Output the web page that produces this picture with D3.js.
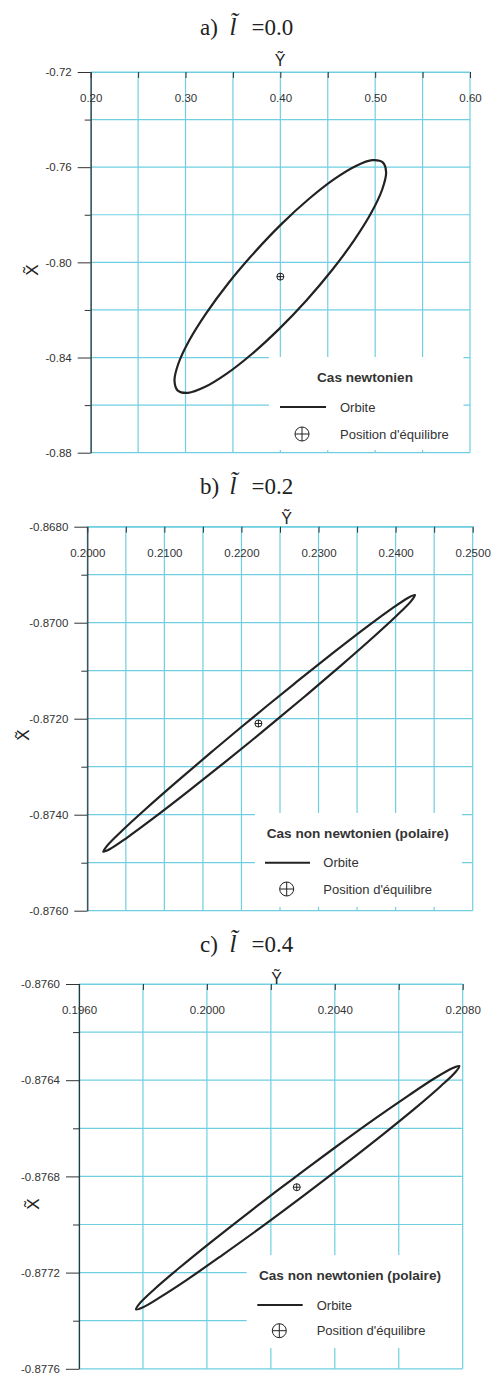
<!DOCTYPE html>
<html>
<head>
<meta charset="utf-8">
<script src="https://cdn.jsdelivr.net/npm/d3@7/dist/d3.min.js"></script>
<style>
  body { margin: 0; background: #fff; }
  svg text { font-family: "Liberation Sans", Arial, Helvetica, sans-serif; }
</style>
</head>
<body>
<svg id="chart" width="497" height="1376"></svg>
<script>
// Orbits in the (Ỹ, X̃) plane for three values of the length l̃

const panelLetters = ["a)", "b)", "c)"];
const lValues = ["0.0", "0.2", "0.4"];
const legendTitles = ["Cas newtonien", "Cas non newtonien (polaire)", "Cas non newtonien (polaire)"];
const legendLabels = ["Orbite", "Position d'équilibre"];

// ---- panel a : l = 0.0 ----
const yDomainA = [0.20, 0.60];
const xDomainA = [-0.72, -0.88];
const yTicksA = [0.20, 0.25, 0.30, 0.35, 0.40, 0.45, 0.50, 0.55, 0.60];
const yLabelsA = [0.20, 0.30, 0.40, 0.50, 0.60];
const xMajorA = [-0.72, -0.76, -0.80, -0.84, -0.88];
const xMinorA = [-0.74, -0.78, -0.82, -0.86];
// orbit samples: [Ỹ, X̃]
const orbitA = [
  [0.50800, -0.75800], [0.51152, -0.76220], [0.50741, -0.76938], [0.49602, -0.77909],
  [0.47809, -0.79056], [0.45479, -0.80313], [0.42768, -0.81591], [0.39879, -0.82797],
  [0.37000, -0.83852], [0.34311, -0.84688], [0.32022, -0.85243], [0.30272, -0.85482],
  [0.29185, -0.85390], [0.28837, -0.84970], [0.29249, -0.84251], [0.30388, -0.83284],
  [0.32191, -0.82133], [0.34511, -0.80876], [0.37221, -0.79603], [0.40111, -0.78392],
  [0.43000, -0.77337], [0.45679, -0.76501], [0.47967, -0.75946], [0.49718, -0.75707]
];
const equilibriumA = [0.400, -0.806];

// ---- panel b : l = 0.2 ----
const yDomainB = [0.2000, 0.2500];
const xDomainB = [-0.8680, -0.8760];
const yTicksB = [0.2000, 0.2050, 0.2100, 0.2150, 0.2200, 0.2250, 0.2300, 0.2350, 0.2400, 0.2450, 0.2500];
const yLabelsB = [0.2000, 0.2100, 0.2200, 0.2300, 0.2400, 0.2500];
const xMajorB = [-0.8680, -0.8700, -0.8720, -0.8740, -0.8760];
const xMinorB = [-0.8690, -0.8710, -0.8730, -0.8750];
const orbitB = [
  [0.242514, -0.869423], [0.242007, -0.869550], [0.240156, -0.869850], [0.237087, -0.870303],
  [0.233012, -0.870878], [0.228204, -0.871537], [0.222996, -0.872234], [0.217740, -0.872921],
  [0.212792, -0.873552], [0.208494, -0.874084], [0.205135, -0.874481], [0.202946, -0.874715],
  [0.202076, -0.874771], [0.202583, -0.874644], [0.204434, -0.874344], [0.207503, -0.873891],
  [0.211578, -0.873316], [0.216386, -0.872657], [0.221595, -0.871960], [0.226850, -0.871273],
  [0.231798, -0.870641], [0.236096, -0.870109], [0.239455, -0.869713], [0.241644, -0.869479]
];
const equilibriumB = [0.2222, -0.8721];

// ---- panel c : l = 0.4 ----
const yDomainC = [0.1960, 0.2080];
const xDomainC = [-0.8760, -0.8776];
const yTicksC = [0.1960, 0.1980, 0.2000, 0.2020, 0.2040, 0.2060, 0.2080];
const yLabelsC = [0.1960, 0.2000, 0.2040, 0.2080];
const xMajorC = [-0.8760, -0.8764, -0.8768, -0.8772, -0.8776];
const xMinorC = [-0.8762, -0.8766, -0.8770, -0.8774];
const orbitC = [
  [0.207894, -0.876341], [0.207770, -0.876367], [0.207311, -0.876425], [0.206546, -0.876513],
  [0.205529, -0.876623], [0.204328, -0.876748], [0.203026, -0.876880], [0.201711, -0.877010],
  [0.200473, -0.877128], [0.199396, -0.877228], [0.198554, -0.877301], [0.198004, -0.877344],
  [0.197783, -0.877353], [0.197906, -0.877327], [0.198366, -0.877268], [0.199130, -0.877181],
  [0.200148, -0.877071], [0.201348, -0.876946], [0.202650, -0.876814], [0.203965, -0.876684],
  [0.205203, -0.876565], [0.206280, -0.876466], [0.207122, -0.876392], [0.207673, -0.876350]
];
const equilibriumC = [0.20281, -0.876845];

const panels = [
  { yDomain: yDomainA, xDomain: xDomainA, yTicks: yTicksA, yLabels: yLabelsA, xMajor: xMajorA, xMinor: xMinorA, orbit: orbitA, eq: equilibriumA, dec: 2 },
  { yDomain: yDomainB, xDomain: xDomainB, yTicks: yTicksB, yLabels: yLabelsB, xMajor: xMajorB, xMinor: xMinorB, orbit: orbitB, eq: equilibriumB, dec: 4 },
  { yDomain: yDomainC, xDomain: xDomainC, yTicks: yTicksC, yLabels: yLabelsC, xMajor: xMajorC, xMinor: xMinorC, orbit: orbitC, eq: equilibriumC, dec: 4 }
];

// page layout of each panel
const layouts = [
  { left: 90.7, right: 470, top: 72, bottom: 452.7, titleBase: 35, yLab: [280, 66], xLab: [32, 270],
    legend: { x0: 269, x1: 463.5, y0: 357, y1: 450, title: [365, 377], line: [280, 326, 407], text: 340, sym: [302, 434] } },
  { left: 87.3, right: 472.7, top: 526.7, bottom: 910.7, titleBase: 494.3, yLab: [286.7, 524], xLab: [23.5, 735],
    legend: { x0: 255, x1: 462, y0: 813, y1: 907, title: [357.7, 833], line: [265, 310, 862.7], text: 323.3, sym: [286.7, 889] } },
  { left: 79, right: 462.7, top: 984, bottom: 1368.8, titleBase: 952.3, yLab: [276.7, 983.5], xLab: [33, 1204],
    legend: { x0: 246.7, x1: 462, y0: 1255, y1: 1348, title: [350, 1275], line: [257.3, 302.7, 1305], text: 316.7, sym: [279.3, 1330.7] } }
];

const GRID = "#6fcfe1";
const INK = "#222";
const LABEL = "#333";
const SERIF = "'Liberation Serif', 'Times New Roman', serif";

const svg = d3.select("#chart");

function crossCircle(g, cx, cy, r, sw) {
  g.append("circle").attr("cx", cx).attr("cy", cy).attr("r", r)
    .attr("fill", "none").attr("stroke", INK).attr("stroke-width", sw);
  g.append("line").attr("x1", cx - r).attr("x2", cx + r).attr("y1", cy).attr("y2", cy)
    .attr("stroke", INK).attr("stroke-width", sw);
  g.append("line").attr("x1", cx).attr("x2", cx).attr("y1", cy - r).attr("y2", cy + r)
    .attr("stroke", INK).attr("stroke-width", sw);
}

panels.forEach((p, i) => {
  const L = layouts[i];
  const g = svg.append("g");
  const x = d3.scaleLinear().domain(p.yDomain).range([L.left, L.right]);
  const y = d3.scaleLinear().domain(p.xDomain).range([L.top, L.bottom]);
  const fmt = d => d.toFixed(p.dec);
  const isLabel = d => p.yLabels.some(v => Math.abs(v - d) < 1e-9);

  // panel title  "a) l̃ =0.0"  (italic l carrying a combining tilde)
  const tt = g.append("text").attr("fill", INK).attr("font-size", 23).style("font-family", SERIF);
  tt.append("tspan").attr("x", 200).attr("y", L.titleBase).text(panelLetters[i] + " ");
  tt.append("tspan").attr("x", 229.5).attr("y", L.titleBase).attr("font-size", 25)
    .attr("font-style", "italic").text("l\u0303");
  tt.append("tspan").attr("x", 251.5).attr("y", L.titleBase).text("=" + lValues[i]);

  // grid
  g.append("g").selectAll("line").data(p.yTicks).join("line")
    .attr("x1", d => x(d)).attr("x2", d => x(d)).attr("y1", L.top).attr("y2", L.bottom)
    .attr("stroke", GRID).attr("stroke-width", 1.2);
  g.append("g").selectAll("line").data(p.xMajor.concat(p.xMinor)).join("line")
    .attr("x1", L.left).attr("x2", L.right).attr("y1", d => y(d)).attr("y2", d => y(d))
    .attr("stroke", GRID).attr("stroke-width", 1.2);

  // top axis: ticks pointing into the plot, labels below them
  const top = g.append("g").attr("transform", `translate(0,${L.top})`)
    .call(d3.axisBottom(x).tickValues(p.yTicks).tickSizeInner(6).tickSizeOuter(0).tickPadding(16)
      .tickFormat(d => isLabel(d) ? fmt(d) : ""));
  top.select(".domain").attr("stroke", GRID).attr("stroke-width", 1.2);
  top.selectAll(".tick line").attr("stroke", "#333");
  top.selectAll(".tick text").attr("fill", LABEL).attr("font-size", 11.5)
    .style("font-family", "'Liberation Sans', Arial, sans-serif");

  // left axis
  const left = g.append("g").attr("transform", `translate(${L.left},0)`)
    .call(d3.axisLeft(y).tickValues(p.xMajor).tickSizeInner(13).tickSizeOuter(0).tickPadding(6).tickFormat(fmt));
  left.select(".domain").attr("stroke", "#333").attr("stroke-width", 1.2);
  left.selectAll(".tick line").attr("stroke", "#333");
  left.selectAll(".tick text").attr("fill", LABEL).attr("font-size", 11.5)
    .style("font-family", "'Liberation Sans', Arial, sans-serif");
  const minor = g.append("g").attr("transform", `translate(${L.left},0)`)
    .call(d3.axisLeft(y).tickValues(p.xMinor).tickSizeInner(6).tickSizeOuter(0).tickFormat(""));
  minor.select(".domain").remove();
  minor.selectAll(".tick line").attr("stroke", "#333");

  // axis names
  g.append("text").attr("x", L.yLab[0]).attr("y", L.yLab[1]).attr("text-anchor", "middle")
    .attr("font-size", 16).attr("fill", INK).text("Ỹ");
  g.append("text").attr("transform", `translate(${L.xLab[0]},${L.xLab[1]}) rotate(-90)`)
    .attr("text-anchor", "middle").attr("dy", "0.35em")
    .attr("font-size", 17).attr("fill", INK).text("X\u0303");

  // legend box
  const lg = L.legend;
  g.append("rect").attr("x", lg.x0).attr("y", lg.y0).attr("width", lg.x1 - lg.x0).attr("height", lg.y1 - lg.y0)
    .attr("fill", "#fff");
  g.append("text").attr("x", lg.title[0]).attr("y", lg.title[1]).attr("dy", "0.35em").attr("text-anchor", "middle")
    .attr("font-size", 13.6).attr("font-weight", "bold").attr("fill", LABEL).text(legendTitles[i]);
  g.append("line").attr("x1", lg.line[0]).attr("x2", lg.line[1]).attr("y1", lg.line[2]).attr("y2", lg.line[2])
    .attr("stroke", INK).attr("stroke-width", 2);
  g.append("text").attr("x", lg.text).attr("y", lg.line[2]).attr("dy", "0.35em")
    .attr("font-size", 13).attr("fill", LABEL).text(legendLabels[0]);
  crossCircle(g, lg.sym[0], lg.sym[1], 7, 1);
  g.append("text").attr("x", lg.text).attr("y", lg.sym[1]).attr("dy", "0.35em")
    .attr("font-size", 13).attr("fill", LABEL).text(legendLabels[1]);

  // orbit
  const line = d3.line().x(d => x(d[0])).y(d => y(d[1])).curve(d3.curveCatmullRomClosed.alpha(0.5));
  g.append("path").datum(p.orbit).attr("d", line)
    .attr("fill", "none").attr("stroke", INK).attr("stroke-width", 2.2).attr("stroke-linejoin", "round");

  // equilibrium position
  crossCircle(g, x(p.eq[0]), y(p.eq[1]), 3.5, 1);
});
</script>
</body>
</html>
